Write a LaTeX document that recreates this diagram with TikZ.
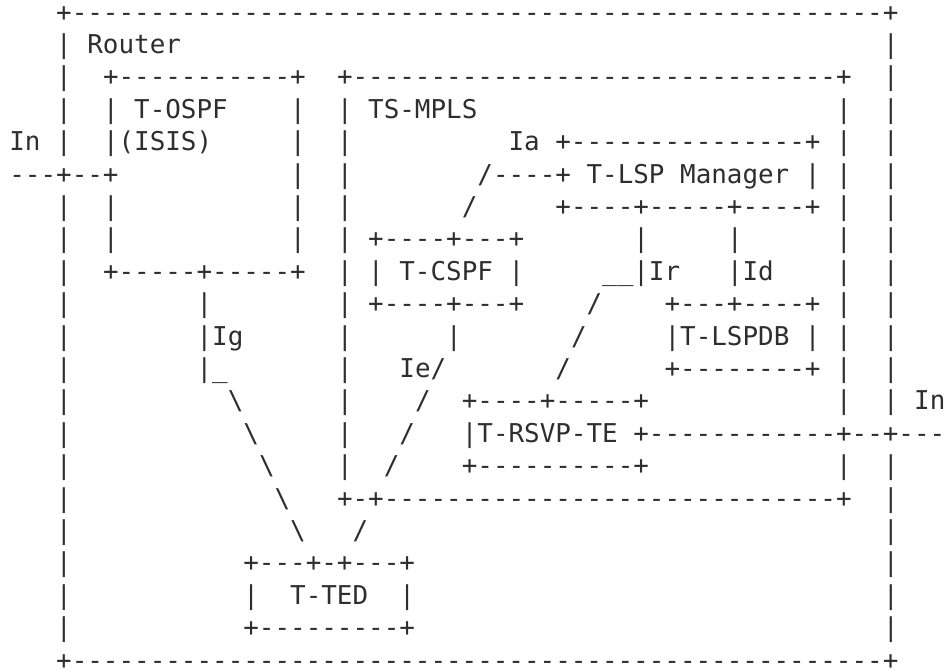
\documentclass[tikz,border=0pt]{standalone}
\usepackage{fontspec}
\setmonofont{DejaVu Sans Mono}
\usepackage{tikz}

% one text row of the drawing: list of column/text pieces
\newcommand{\asciirow}[2]{%
  \foreach \col/\txt in {#2}{%
    \node[ascii] (r#1c\col) at ({9.4+\col*15.6}, {21+(#1-1)*32.4}) {\txt};
  }%
}

\begin{document}
\begin{tikzpicture}[x=0.75pt, y=-0.75pt,
    ascii/.style={inner sep=0pt, outer sep=0pt, anchor=base west, text=black!82,
      text depth=0pt, font=\ttfamily\fontsize{19.43pt}{23pt}\selectfont}]
  \useasboundingbox (0,0) rectangle (948,669);

  % Router box, T-OSPF
  \asciirow{1}{3/{+----------------------------------------------------+}}
  \asciirow{2}{3/{| Router}, 56/{|}}
  \asciirow{3}{3/{|}, 6/{+-----------+}, 21/{+-------------------------------+}, 56/{|}}
  \asciirow{4}{3/{|}, 6/{| T-OSPF}, 18/{|}, 21/{| TS-MPLS}, 53/{|}, 56/{|}}
  \asciirow{5}{0/{In |}, 6/{|(ISIS)}, 18/{|}, 21/{|}, 32/{Ia +---------------+ |}, 56/{|}}
  \asciirow{6}{0/{---+--+}, 18/{|}, 21/{|}, 30/{/----+ T-LSP Manager | |}, 56/{|}}
  \asciirow{7}{3/{|}, 6/{|}, 18/{|}, 21/{|}, 29/{/}, 35/{+----+-----+----+ |}, 56/{|}}
  \asciirow{8}{3/{|}, 6/{|}, 18/{|}, 21/{| +----+---+}, 40/{|}, 46/{|}, 53/{|}, 56/{|}}
  \asciirow{9}{3/{|}, 6/{+-----+-----+}, 21/{| | T-CSPF |}, 38/{\_\_|Ir}, 46/{|Id}, 53/{|}, 56/{|}}
  \asciirow{10}{3/{|}, 12/{|}, 21/{| +----+---+}, 37/{/}, 42/{+---+----+ |}, 56/{|}}
  \asciirow{11}{3/{|}, 12/{|Ig}, 21/{|}, 28/{|}, 36/{/}, 42/{|T-LSPDB | |}, 56/{|}}
  \asciirow{12}{3/{|}, 12/{|\_}, 21/{|}, 25/{Ie/}, 35/{/}, 42/{+--------+ |}, 56/{|}}
  \asciirow{13}{3/{|}, 14/{\textbackslash}, 21/{|}, 26/{/}, 29/{+----+-----+}, 53/{|}, 56/{| In}}
  \asciirow{14}{3/{|}, 15/{\textbackslash}, 21/{|}, 25/{/}, 29/{|T-RSVP-TE +------------+--+---}}
  \asciirow{15}{3/{|}, 16/{\textbackslash}, 21/{|}, 24/{/}, 29/{+----------+}, 53/{|}, 56/{|}}
  \asciirow{16}{3/{|}, 17/{\textbackslash}, 21/{+-+-----------------------------+}, 56/{|}}
  \asciirow{17}{3/{|}, 18/{\textbackslash}, 22/{/}, 56/{|}}
  % T-TED
  \asciirow{18}{3/{|}, 15/{+---+-+---+}, 56/{|}}
  \asciirow{19}{3/{|}, 15/{|}, 18/{T-TED}, 25/{|}, 56/{|}}
  \asciirow{20}{3/{|}, 15/{+---------+}, 56/{|}}
  \asciirow{21}{3/{+----------------------------------------------------+}}
\end{tikzpicture}
\end{document}
